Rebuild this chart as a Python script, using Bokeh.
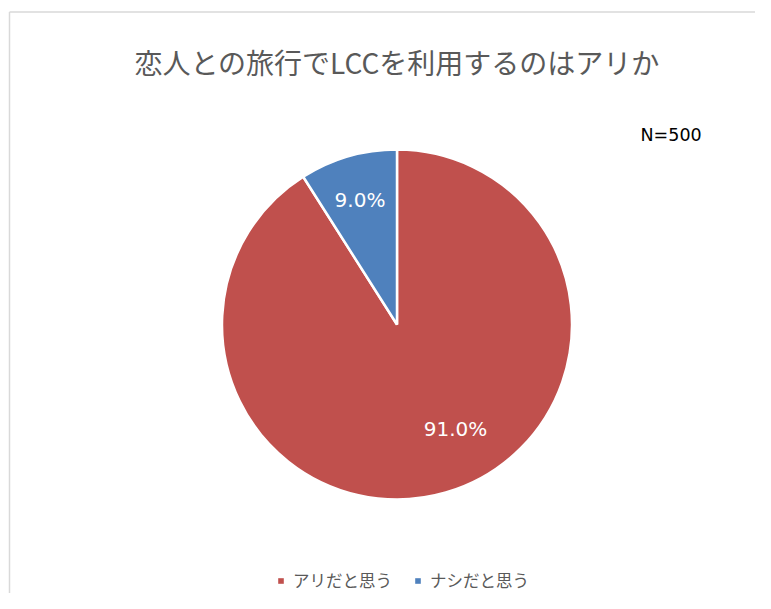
import math
from bokeh.plotting import figure
from bokeh.models import Range1d, ColumnDataSource, Legend, LegendItem
from bokeh.core.properties import value
from bokeh.embed import file_html
from bokeh.resources import INLINE

# ---- data ----
categories = ["アリだと思う", "ナシだと思う"]
shares = [91.0, 9.0]
colors = ["#C0504D", "#4F81BD"]
title_text = "恋人との旅行でLCCを利用するのはアリか"
note_text = "N=500"

# ---- layout (data units == pixels) ----
W, H = 755, 593

def to_y(screen_y):
    return H - screen_y

CX, CY, R = 396.5, 324.0, 175.0

p = figure(width=W, height=H, output_backend="svg", toolbar_location=None,
           x_range=Range1d(0, W), y_range=Range1d(0, H),
           min_border=0, outline_line_color=None, background_fill_color="white",
           border_fill_color="white")
p.axis.visible = False
p.grid.visible = False

# chart area border (only left and top edges are visible in the window)
p.segment(x0=[9, 9], y0=[to_y(11.5), to_y(11.5)], x1=[9, W + 20], y1=[to_y(H + 20), to_y(11.5)],
          line_color="#D9D9D9", line_width=1.5)

# wedges: start at 12 o'clock, go clockwise
total = sum(shares)
starts, ends = [], []
cum = 0.0
for s in shares:
    a_hi = math.pi / 2 - 2 * math.pi * cum / total
    cum += s
    a_lo = math.pi / 2 - 2 * math.pi * cum / total
    starts.append(a_lo)
    ends.append(a_hi)

src = ColumnDataSource(dict(start=starts, end=ends, color=colors, cat=categories))
p.wedge(x=CX, y=to_y(CY), radius=R, start_angle="start", end_angle="end",
        fill_color="color", line_color="white", line_width=2.5, source=src)

# data labels (Excel best-fit positions)
label_pos = [(455.0, 428.5), (359.5, 199.0)]
p.text(x=[lp[0] for lp in label_pos], y=[to_y(lp[1]) for lp in label_pos],
       text=[f"{v:.1f}%" for v in shares], text_align="center", text_baseline="middle",
       text_color="white", text_font=value("DejaVu Sans"), text_font_size="20px")

# title
p.text(x=[396.5], y=[to_y(61)], text=[title_text], text_align="center", text_baseline="middle",
       text_color="#595959", text_font=value("Noto Sans CJK JP"), text_font_size="28px")

# N note
p.text(x=[640], y=[to_y(134.5)], text=[note_text], text_align="left", text_baseline="middle",
       text_color="#000000", text_font=value("DejaVu Sans"), text_font_size="17.5px")

# legend swatches (square area glyphs, not drawn in the plot area)
legend_items = []
for cat, col in zip(categories, colors):
    r = p.quad(left=[float("nan")], right=[float("nan")], top=[float("nan")], bottom=[float("nan")],
               fill_color=col, line_color=None)
    legend_items.append(LegendItem(label=cat, renderers=[r]))

legend = Legend(items=legend_items, orientation="horizontal", location=(277, to_y(582) - 10),
                glyph_width=7, glyph_height=7, label_standoff=9, spacing=22,
                padding=0, margin=0, border_line_color=None, background_fill_alpha=0,
                label_text_font="Noto Sans CJK JP", label_text_font_size="16.5px",
                label_text_color="#595959", label_height=20)
p.add_layout(legend, "center")

open("out.html", "w").write(file_html(p, INLINE))
